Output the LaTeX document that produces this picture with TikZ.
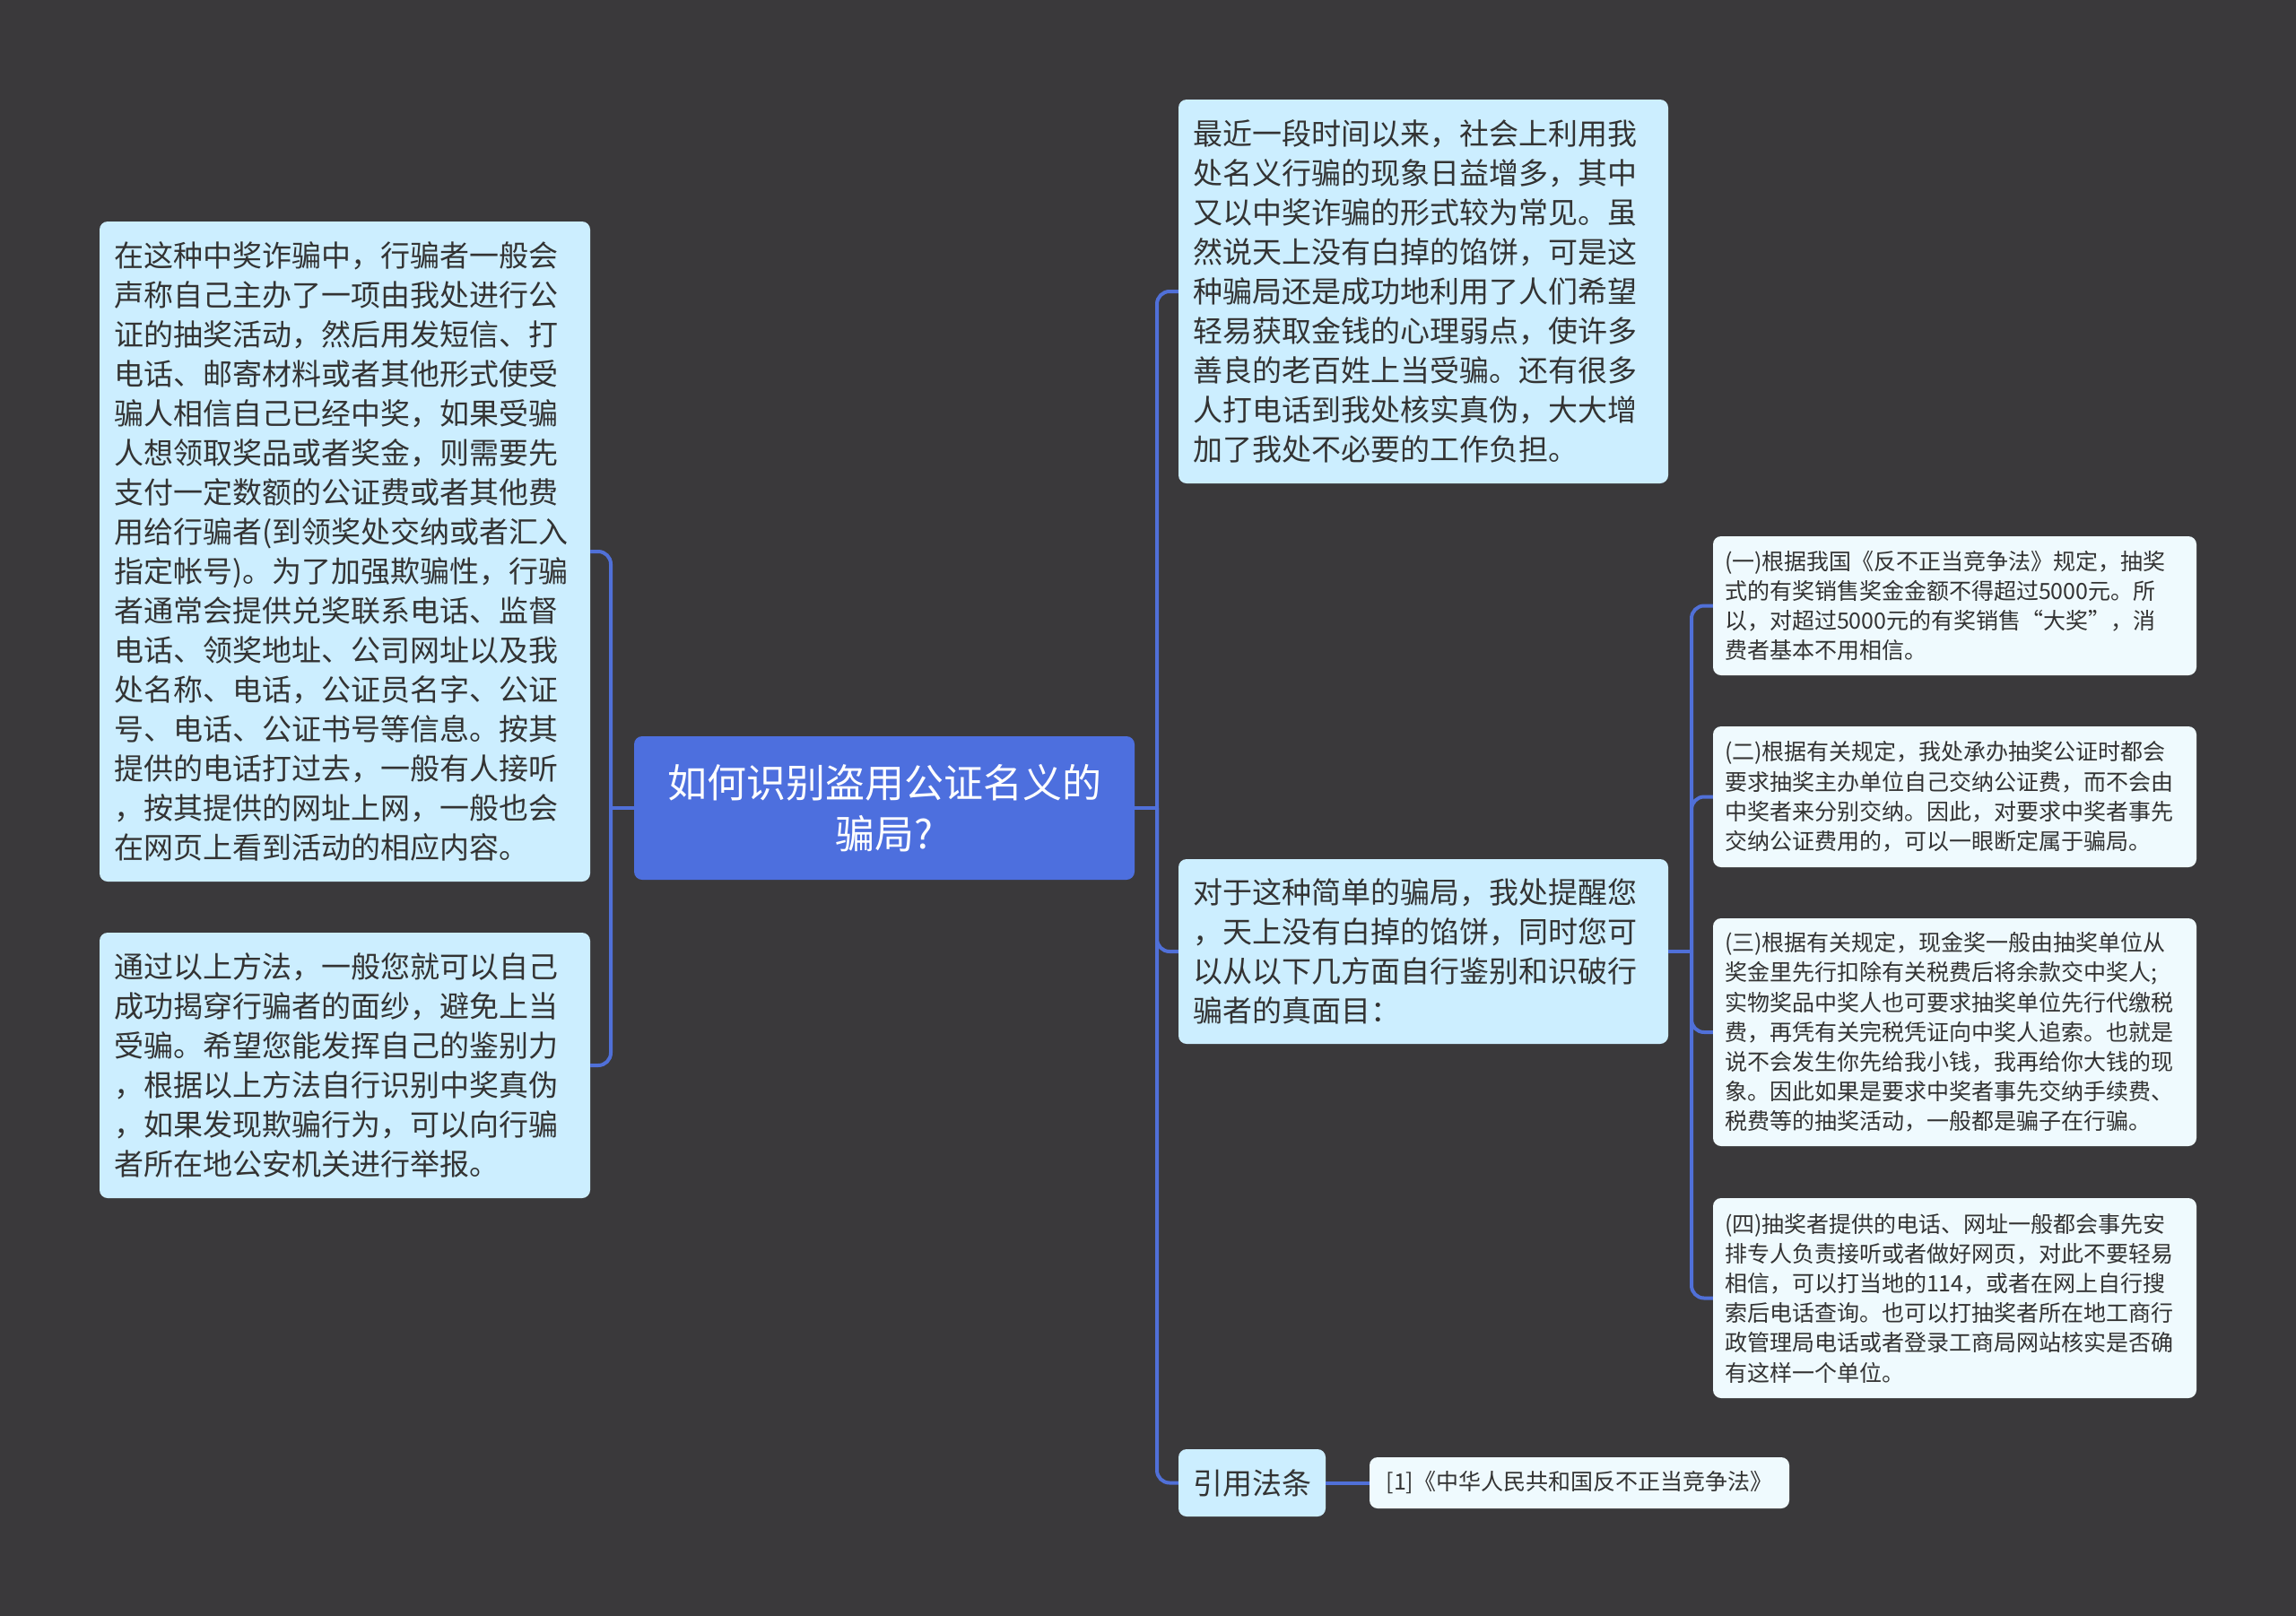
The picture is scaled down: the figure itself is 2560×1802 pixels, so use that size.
\documentclass[tikz,border=0pt]{standalone}
\usepackage{fontspec}
\newfontfamily\cjk{Noto Sans CJK SC}
\definecolor{bg}{HTML}{3A393B}
\definecolor{rootfill}{HTML}{4D6FDE}
\definecolor{linecol}{HTML}{5070D8}
\definecolor{mainfill}{HTML}{CCEEFF}
\definecolor{subfill}{HTML}{EFFAFE}
\definecolor{txt}{HTML}{333333}
\begin{document}
\begin{tikzpicture}[x=1pt,y=-1pt,
  box/.style={rounded corners=9pt, inner xsep=16pt, inner ysep=0pt, align=left, text=txt,
              font=\cjk\fontsize{33}{44}\selectfont},
  mainbox/.style={box, fill=mainfill},
  subbox/.style={box, fill=subfill, inner xsep=13pt, font=\cjk\fontsize{25}{33.2}\selectfont},
  rootbox/.style={rounded corners=9pt, fill=rootfill, text=white, align=center,
              font=\cjk\fontsize{44}{57}\selectfont, inner sep=0pt},
  conn/.style={draw=linecol, line width=4pt},
  elbow/.style={conn, rounded corners=14pt}
]
\fill[bg] (0,0) rectangle (2560,1802);
\useasboundingbox (0,0) rectangle (2560,1802);

% root
\node[rootbox, minimum width=558pt, minimum height=160pt] (root) at (986,901)
  {如何识别盗用公证名义的\\骗局?};

% left branch
\node[mainbox, text width=515pt, minimum height=736pt] (L1) at (384.5,615) {%
在这种中奖诈骗中，行骗者一般会\\
声称自己主办了一项由我处进行公\\
证的抽奖活动，然后用发短信、打\\
电话、邮寄材料或者其他形式使受\\
骗人相信自己已经中奖，如果受骗\\
人想领取奖品或者奖金，则需要先\\
支付一定数额的公证费或者其他费\\
用给行骗者(到领奖处交纳或者汇入\\
指定帐号)。为了加强欺骗性，行骗\\
者通常会提供兑奖联系电话、监督\\
电话、领奖地址、公司网址以及我\\
处名称、电话，公证员名字、公证\\
号、电话、公证书号等信息。按其\\
提供的电话打过去，一般有人接听\\
，按其提供的网址上网，一般也会\\
在网页上看到活动的相应内容。};

\node[mainbox, text width=515pt, minimum height=296pt] (L2) at (384.5,1188) {%
通过以上方法，一般您就可以自己\\
成功揭穿行骗者的面纱，避免上当\\
受骗。希望您能发挥自己的鉴别力\\
，根据以上方法自行识别中奖真伪\\
，如果发现欺骗行为，可以向行骗\\
者所在地公安机关进行举报。};

% right branch
\node[mainbox, text width=514pt, minimum height=428pt] (R1) at (1587,325) {%
最近一段时间以来，社会上利用我\\
处名义行骗的现象日益增多，其中\\
又以中奖诈骗的形式较为常见。虽\\
然说天上没有白掉的馅饼，可是这\\
种骗局还是成功地利用了人们希望\\
轻易获取金钱的心理弱点，使许多\\
善良的老百姓上当受骗。还有很多\\
人打电话到我处核实真伪，大大增\\
加了我处不必要的工作负担。};

\node[mainbox, text width=514pt, minimum height=206pt] (R2) at (1587,1061) {%
对于这种简单的骗局，我处提醒您\\
，天上没有白掉的馅饼，同时您可\\
以从以下几方面自行鉴别和识破行\\
骗者的真面目：};

\node[mainbox, minimum width=164pt, minimum height=75pt, inner xsep=0pt] (cite) at (1396,1653.5) {引用法条};

\node[subbox, minimum width=468pt, minimum height=57pt, inner xsep=0pt, align=center] (ref) at (1761,1653.5)
  {[1]《中华人民共和国反不正当竞争法》};

% sub items
\node[subbox, text width=513pt, minimum height=155pt] (S1) at (2179.5,675.5) {%
(一)根据我国《反不正当竞争法》规定，抽奖\\
式的有奖销售奖金金额不得超过5000元。所\\
以，对超过5000元的有奖销售“大奖”，消\\
费者基本不用相信。};

\node[subbox, text width=513pt, minimum height=157pt] (S2) at (2179.5,888.5) {%
(二)根据有关规定，我处承办抽奖公证时都会\\
要求抽奖主办单位自己交纳公证费，而不会由\\
中奖者来分别交纳。因此，对要求中奖者事先\\
交纳公证费用的，可以一眼断定属于骗局。};

\node[subbox, text width=513pt, minimum height=254pt] (S3) at (2179.5,1151) {%
(三)根据有关规定，现金奖一般由抽奖单位从\\
奖金里先行扣除有关税费后将余款交中奖人;\\
实物奖品中奖人也可要求抽奖单位先行代缴税\\
费，再凭有关完税凭证向中奖人追索。也就是\\
说不会发生你先给我小钱，我再给你大钱的现\\
象。因此如果是要求中奖者事先交纳手续费、\\
税费等的抽奖活动，一般都是骗子在行骗。};

\node[subbox, text width=513pt, minimum height=223pt] (S4) at (2179.5,1447.5) {%
(四)抽奖者提供的电话、网址一般都会事先安\\
排专人负责接听或者做好网页，对此不要轻易\\
相信，可以打当地的114，或者在网上自行搜\\
索后电话查询。也可以打抽奖者所在地工商行\\
政管理局电话或者登录工商局网站核实是否确\\
有这样一个单位。};

% connectors
\coordinate (lj) at (681,901);
\coordinate (rj) at (1290,901);
\coordinate (sj) at (1886,1061);

\draw[conn] (root.west) -- (lj);
\draw[elbow] (lj) |- (L1.east);
\draw[elbow] (lj) |- (L2.east);

\draw[conn] (root.east) -- (rj);
\draw[elbow] (rj) |- (R1.west);
\draw[elbow] (rj) |- (R2.west);
\draw[elbow] (rj) |- (cite.west);

\draw[conn] (R2.east) -- (sj);
\draw[elbow] (sj) |- (S1.west);
\draw[elbow] (sj) |- (S2.west);
\draw[elbow] (sj) |- (S3.west);
\draw[elbow] (sj) |- (S4.west);

\draw[conn] (cite.east) -- (ref.west);
\end{tikzpicture}
\end{document}
